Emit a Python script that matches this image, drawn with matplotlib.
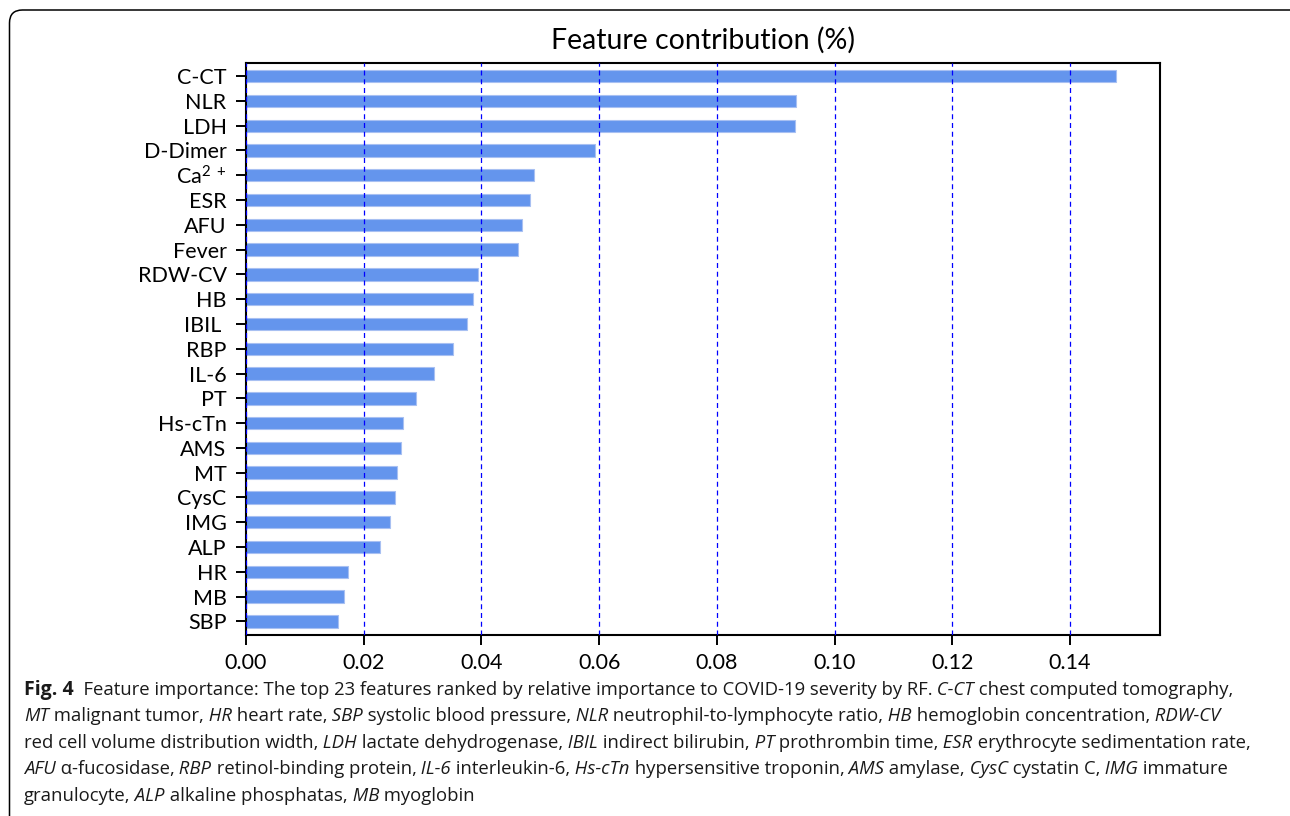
import matplotlib
matplotlib.use("Agg")
import matplotlib.pyplot as plt
from matplotlib.patches import FancyBboxPatch
from matplotlib.transforms import IdentityTransform
from matplotlib.offsetbox import TextArea, HPacker, AnnotationBbox

# Feature importances from the random forest, highest first.
features = ["C-CT", "NLR", "LDH", "D-Dimer", r"Ca$^{2\ +}$", "ESR", "AFU", "Fever",
            "RDW-CV", "HB", "IBIL ", "RBP", "IL-6", "PT", "Hs-cTn", "AMS", "MT",
            "CysC", "IMG", "ALP", "HR", "MB", "SBP"]
importance = [0.1478, 0.0934, 0.0933, 0.0593, 0.0490, 0.0482, 0.0469, 0.0463,
              0.0394, 0.0386, 0.0376, 0.0352, 0.0320, 0.0289, 0.0266, 0.0264,
              0.0256, 0.0253, 0.0245, 0.0228, 0.0173, 0.0166, 0.0157]
xticks = [0.00, 0.02, 0.04, 0.06, 0.08, 0.10, 0.12, 0.14]

caption_lines = [
    "**Fig. 4**  Feature importance: The top 23 features ranked by relative importance to COVID-19 severity by RF. *C-CT* chest computed tomography,",
    "*MT* malignant tumor, *HR* heart rate, *SBP* systolic blood pressure, *NLR* neutrophil-to-lymphocyte ratio, *HB* hemoglobin concentration, *RDW-CV*",
    "red cell volume distribution width, *LDH* lactate dehydrogenase, *IBIL* indirect bilirubin, *PT* prothrombin time, *ESR* erythrocyte sedimentation rate,",
    "*AFU* α-fucosidase, *RBP* retinol-binding protein, *IL-6* interleukin-6, *Hs-cTn* hypersensitive troponin, *AMS* amylase, *CysC* cystatin C, *IMG* immature",
    "granulocyte, *ALP* alkaline phosphatas, *MB* myoglobin",
]

chart_font = "Lato"
caption_font = "Open Sans"
plt.rcParams["font.family"] = [chart_font, "DejaVu Sans"]
plt.rcParams["mathtext.fontset"] = "custom"
plt.rcParams["mathtext.rm"] = chart_font
plt.rcParams["mathtext.it"] = chart_font + ":italic"

W, H = 1290, 816
fig = plt.figure(figsize=(W / 100, H / 100), dpi=100)

# rounded frame around the figure panel, in pixel units
frame = FancyBboxPatch((9.5, -60), 1300, H - 10 + 60,
                       boxstyle="round,pad=0,rounding_size=13",
                       transform=IdentityTransform(), fill=False,
                       edgecolor="black", linewidth=1.1)
fig.patches.append(frame)

ax = fig.add_axes([246 / W, 1 - 635 / H, (1160 - 246) / W, (635 - 63) / H])
ypos = list(range(len(features)))[::-1]
ax.barh(ypos, importance, height=0.5, color="cornflowerblue",
        edgecolor="#a8c0f2", linewidth=0.8, zorder=1)
ax.set_yticks(ypos)
ax.set_yticklabels(features)
ax.set_xticks(xticks)
ax.set_xticklabels([f"{t:.2f}" for t in xticks])
ax.set_xlim(0, 0.1553)
ax.set_ylim(-0.55, len(features) - 0.47)
ax.grid(axis="x", color="blue", linestyle=(0, (4, 3)), linewidth=0.9, zorder=3)
ax.set_axisbelow(False)
ax.tick_params(labelsize=15.5, length=7, width=1.4)
ax.tick_params(axis="y", pad=7)
ax.tick_params(axis="x", pad=6)
for sp in ax.spines.values():
    sp.set_linewidth(1.5)
ax.set_title("Feature contribution (%)", fontsize=20.5, pad=10)


def caption_row(line):
    # split "*italic*" and "**bold**" markup into styled pieces
    parts = []
    bold = line.split("**")
    for bi, chunk in enumerate(bold):
        for ii, piece in enumerate(chunk.split("*")):
            if piece:
                style = "bold" if bi % 2 else ("italic" if ii % 2 else "normal")
                parts.append([piece, style])
    # carry trailing spaces over to the next piece so widths stay right
    for k in range(len(parts) - 1):
        stripped = parts[k][0].rstrip(" ")
        parts[k + 1][0] = " " * (len(parts[k][0]) - len(stripped)) + parts[k + 1][0]
        parts[k][0] = stripped
    boxes = []
    for text, style in parts:
        props = dict(family=[caption_font, "DejaVu Sans"], size=13.35, color="#1a1a1a")
        if style == "bold":
            props["weight"] = "bold"
            props["size"] = 14
        elif style == "italic":
            props["style"] = "italic"
        boxes.append(TextArea(text, textprops=props))
    return HPacker(children=boxes, sep=0, pad=0, align="baseline")


for i, line in enumerate(caption_lines):
    yc = 690 + i * 26.4
    ab = AnnotationBbox(caption_row(line), (24, H - yc), xycoords="figure pixels",
                        box_alignment=(0, 0.5), frameon=False, pad=0)
    fig.add_artist(ab)

fig.savefig("out.png", dpi=100)
